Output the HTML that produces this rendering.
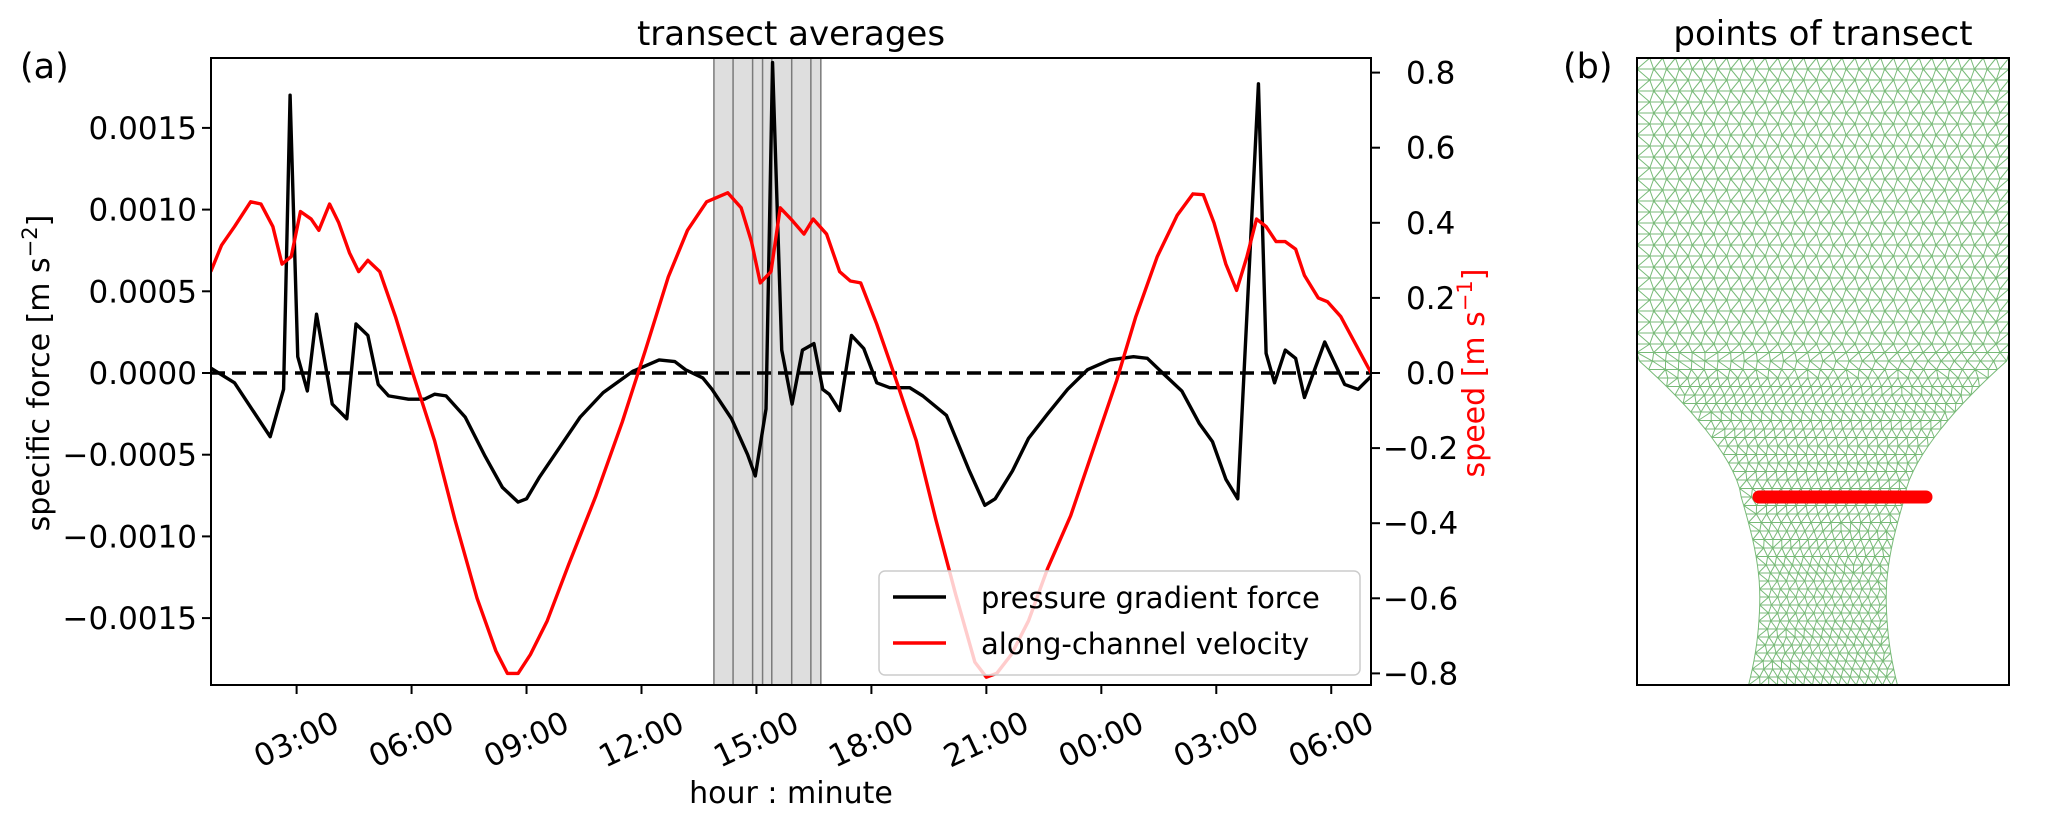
<!DOCTYPE html>
<html><head><meta charset="utf-8"><style>
html,body{margin:0;padding:0;background:#fff;}
svg{display:block;font-family:"DejaVu Sans","Liberation Sans",sans-serif;}
</style></head><body>
<svg id="fig" width="2067" height="817" viewBox="0 0 2067 817" xmlns="http://www.w3.org/2000/svg">
<defs><clipPath id="clipA"><rect x="211" y="58" width="1160" height="627"/></clipPath>
<clipPath id="clipB"><rect x="1637" y="58" width="372" height="627"/></clipPath></defs>
<g id="panelA"></g>
<g id="panelB"></g>
</svg>
<script>
// ---- data ----
const pgfHours = [0.76,1.38,2.31,2.66,2.83,3.03,3.28,3.52,3.93,4.31,4.55,4.86,5.13,5.4,5.92,6.34,6.6,6.9,7.4,7.92,8.37,8.78,9.0,9.33,9.85,10.4,11.0,11.77,12.46,12.87,13.15,13.6,13.84,14.35,14.77,14.97,15.25,15.42,15.66,15.93,16.2,16.5,16.73,16.9,17.17,17.48,17.8,18.14,18.48,19.0,19.34,19.96,20.54,20.96,21.23,21.68,22.1,22.6,23.12,23.64,24.22,24.84,25.2,25.6,26.1,26.56,26.9,27.25,27.56,28.1,28.3,28.52,28.8,29.07,29.3,29.83,30.35,30.7,31.04];
const pgfValues = [0.00003,-0.00006,-0.00039,-0.0001,0.0017,0.0001,-0.00011,0.00036,-0.00019,-0.00028,0.0003,0.00023,-0.00007,-0.00014,-0.00016,-0.00016,-0.00013,-0.00014,-0.00027,-0.00051,-0.0007,-0.00079,-0.00077,-0.00064,-0.00046,-0.00027,-0.00012,0.00001,0.00008,0.00007,0.00002,-0.00003,-0.0001,-0.00028,-0.0005,-0.00063,-0.00022,0.0019,0.00014,-0.00019,0.00014,0.00018,-0.0001,-0.00013,-0.00023,0.00023,0.00015,-0.00006,-0.00009,-0.00009,-0.00014,-0.00026,-0.00059,-0.00081,-0.00077,-0.0006,-0.0004,-0.00025,-0.0001,0.00002,0.00008,0.0001,0.00009,0.0,-0.00011,-0.00031,-0.00042,-0.00065,-0.00077,0.00177,0.00012,-0.00006,0.00014,0.00009,-0.00015,0.00019,-0.00007,-0.0001,-0.00002];
const velHours = [0.76,1.04,1.38,1.8,2.07,2.38,2.62,2.86,3.1,3.38,3.58,3.86,4.1,4.38,4.62,4.86,5.17,5.58,6.03,6.6,7.13,7.71,8.2,8.5,8.78,9.1,9.54,10.1,10.8,11.5,12.1,12.7,13.2,13.7,14.25,14.6,14.87,15.1,15.38,15.62,15.9,16.24,16.48,16.83,17.17,17.45,17.72,18.14,18.65,19.17,19.68,20.2,20.7,21.0,21.27,21.65,22.1,22.6,23.2,23.8,24.4,24.9,25.46,25.98,26.39,26.66,26.94,27.25,27.53,27.8,28.05,28.3,28.56,28.8,29.07,29.3,29.66,29.9,30.25,31.04];
const velValues = [0.27,0.34,0.39,0.456,0.45,0.39,0.29,0.31,0.43,0.41,0.38,0.45,0.40,0.32,0.27,0.30,0.27,0.15,0.0,-0.18,-0.39,-0.6,-0.74,-0.80,-0.80,-0.75,-0.66,-0.51,-0.33,-0.13,0.06,0.256,0.38,0.456,0.48,0.44,0.35,0.24,0.27,0.44,0.41,0.37,0.41,0.37,0.27,0.245,0.24,0.13,-0.02,-0.18,-0.39,-0.59,-0.77,-0.81,-0.80,-0.75,-0.66,-0.52,-0.38,-0.2,-0.02,0.15,0.31,0.42,0.477,0.475,0.40,0.29,0.22,0.31,0.41,0.39,0.35,0.35,0.33,0.26,0.2,0.19,0.15,0.0];
const bandEdges = [13.89,14.39,14.9,15.16,15.4,15.92,16.42,16.68];
const xTickHours = [3,6,9,12,15,18,21,24,27,30];
const xTickLabels = ['03:00','06:00','09:00','12:00','15:00','18:00','21:00','00:00','03:00','06:00'];
const leftTicks = [0.0015,0.0010,0.0005,0,-0.0005,-0.0010,-0.0015];
const leftTickLabels = ['0.0015','0.0010','0.0005','0.0000','\u22120.0005','\u22120.0010','\u22120.0015'];
const rightTicks = [0.8,0.6,0.4,0.2,0,-0.2,-0.4,-0.6,-0.8];
const rightTickLabels = ['0.8','0.6','0.4','0.2','0.0','\u22120.2','\u22120.4','\u22120.6','\u22120.8'];

const NS='http://www.w3.org/2000/svg';
const L=211,R=1371,T=58,B=685;
const x=h=>L+(h-0.766)*38.32;
const yL=v=>373-v/0.0005*81.7;
const yR=s=>373-s/0.2*75.1;
function mk(tag,attrs,parent,text){const e=document.createElementNS(NS,tag);for(const k in attrs)e.setAttribute(k,attrs[k]);if(text!==undefined)e.textContent=text;parent.appendChild(e);return e;}
const A=document.getElementById('panelA');

const bands=mk('g',{'clip-path':'url(#clipA)'},A);


for(let i=0;i<bandEdges.length-1;i++){
  const r=mk('rect',{x:x(bandEdges[i]),y:T,width:x(bandEdges[i+1])-x(bandEdges[i]),height:B-T,fill:'#dedede'},bands);
  
  
}
for(let i=0;i<bandEdges.length;i++){
  const l=mk('line',{x1:x(bandEdges[i]),x2:x(bandEdges[i]),y1:T,y2:B,stroke:'#7a7a7a','stroke-width':1.5},bands);
  
  
}
const z=mk('line',{x1:L,x2:R,y1:yL(0),y2:yL(0),stroke:'#000','stroke-width':3.5,'stroke-dasharray':'14,7'},A);


const clipG=mk('g',{'clip-path':'url(#clipA)'},A);
const pk=mk('polyline',{points:pgfHours.map((h,i)=>x(h)+','+yL(pgfValues[i])).join(' '),fill:'none',stroke:'#000','stroke-width':3.4,'stroke-linejoin':'round'},clipG);


const pr=mk('polyline',{points:velHours.map((h,i)=>x(h)+','+yR(velValues[i])).join(' '),fill:'none',stroke:'#ff0000','stroke-width':3.4,'stroke-linejoin':'round'},clipG);


const fr=mk('rect',{x:L,y:T,width:R-L,height:B-T,fill:'none',stroke:'#000','stroke-width':2},A);


xTickHours.forEach((h,i)=>{
  const t=mk('line',{x1:x(h),x2:x(h),y1:B,y2:B+9,stroke:'#000','stroke-width':2},A);
  
  
  const tx=mk('text',{x:x(h),y:740,'font-size':31,'text-anchor':'middle','dominant-baseline':'central',transform:'rotate(-25 '+x(h)+' 740)'},A,xTickLabels[i]);
  
  
});
leftTicks.forEach((v,i)=>{
  const t=mk('line',{x1:L-9,x2:L,y1:yL(v),y2:yL(v),stroke:'#000','stroke-width':2},A);
  
  
  const tx=mk('text',{x:L-14,y:yL(v)+11,'font-size':31,'text-anchor':'end'},A,leftTickLabels[i]);
  
  
});
rightTicks.forEach((v,i)=>{
  const t=mk('line',{x1:R,x2:R+9,y1:yR(v),y2:yR(v),stroke:'#000','stroke-width':2},A);
  
  
  const tx=mk('text',{x:R+(v<0?12:35),y:yR(v)+11,'font-size':31,'text-anchor':'start'},A,rightTickLabels[i]);
  
  
});
</script>
<script>
(function(){
const NS='http://www.w3.org/2000/svg';const A=document.getElementById('panelA');
A.insertAdjacentHTML('beforeend',`
<text x="791" y="45" font-size="34" text-anchor="middle">transect averages</text>
<text x="20" y="78" font-size="35">(a)</text>
<text x="791" y="803" font-size="30" text-anchor="middle">hour : minute</text>
<text transform="translate(49 373) rotate(-90)" font-size="30" text-anchor="middle">specific force [m s<tspan baseline-shift="super" font-size="21">−2</tspan>]</text>
<text transform="translate(1484 373) rotate(-90)" font-size="30" text-anchor="middle" fill="#ff0000">speed [m s<tspan baseline-shift="super" font-size="21">−1</tspan>]</text>
<g>
<rect x="879" y="571" width="481" height="104" rx="6" fill="rgba(255,255,255,0.8)" stroke="#cccccc" stroke-width="1.5"/>
<line x1="893" x2="946" y1="597" y2="597" stroke="#000" stroke-width="3.4"/>
<text x="981" y="608" font-size="29">pressure gradient force</text>
<line x1="893" x2="946" y1="643" y2="643" stroke="#ff0000" stroke-width="3.4"/>
<text x="981" y="654" font-size="29">along-channel velocity</text>
</g>`);
const P=document.getElementById('panelB');
P.insertAdjacentHTML('beforeend',`
<text x="1823" y="45" font-size="34" text-anchor="middle">points of transect</text>
<text x="1563" y="78" font-size="35">(b)</text>`);
const L=1637,W=372,T=58,H=627;
function xl(f){
  if(f<=0.48) return 0;
  if(f<=0.70){const t=(f-0.48)/0.22;return 0.28*(1-Math.pow(1-t,1.5));}
  if(f<=0.86){const t=(f-0.70)/0.16;return 0.28+0.05*Math.sin(t*Math.PI/2);}
  const t=(f-0.86)/0.14;return 0.33-0.03*t*t;
}
const rows=[];let f=0;
while(f<=1.0001){
  const a=xl(Math.min(f,1)),b=1-a,w=(b-a)*W;
  const sp=f<0.5?13:(f<0.75?10:9);
  const n=Math.max(2,Math.round(w/sp));
  const off=(rows.length%2)*0.5;
  const pts=[];
  for(let i=0;i<=n;i++){let u=(i+((i>0&&i<n)?off*0.6:0))/n;u=Math.min(1,u);pts.push([L+a*W+u*w,T+Math.min(f,1)*H]);}
  rows.push(pts);
  f+=(f<0.45?11:(f<0.8?8.5:8))/H;
}
let d='';
for(let r=0;r<rows.length;r++){
  const p=rows[r];
  for(let i=0;i<p.length-1;i++)d+=`M${p[i][0].toFixed(1)} ${p[i][1].toFixed(1)}L${p[i+1][0].toFixed(1)} ${p[i+1][1].toFixed(1)}`;
  if(r>0){
    const q=rows[r-1];let i=0,j=0;
    d+=`M${q[0][0].toFixed(1)} ${q[0][1].toFixed(1)}L${p[0][0].toFixed(1)} ${p[0][1].toFixed(1)}`;
    while(i<q.length-1||j<p.length-1){
      const nq=i<q.length-1?q[i+1][0]:Infinity,np=j<p.length-1?p[j+1][0]:Infinity;
      if(nq<=np)i++;else j++;
      d+=`M${q[i][0].toFixed(1)} ${q[i][1].toFixed(1)}L${p[j][0].toFixed(1)} ${p[j][1].toFixed(1)}`;
    }
  }
}
const g=document.createElementNS(NS,'g');g.setAttribute('clip-path','url(#clipB)');P.appendChild(g);
const mesh=document.createElementNS(NS,'path');
mesh.setAttribute('d',d);mesh.setAttribute('fill','none');mesh.setAttribute('stroke','rgba(30,140,30,0.6)');mesh.setAttribute('stroke-width','1');


g.appendChild(mesh);
P.insertAdjacentHTML('beforeend',`
<line x1="1759" x2="1926" y1="497" y2="497" stroke="#ff0000" stroke-width="13" stroke-linecap="round"/>
<rect x="1637" y="58" width="372" height="627" fill="none" stroke="#000" stroke-width="2"/>`);
})();
</script>
</body></html>
